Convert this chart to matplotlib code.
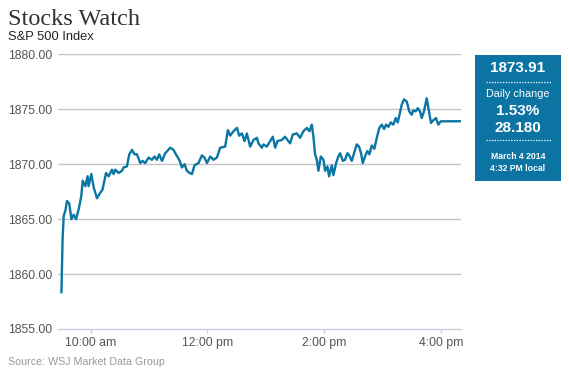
import matplotlib
matplotlib.use("Agg")
import matplotlib.pyplot as plt
from matplotlib.patches import Rectangle
from matplotlib.lines import Line2D
import matplotlib.transforms as mtransforms

# minutes after the 9:30 open, and S&P 500 level
minutes = [0, 1.2, 2.3, 4.0, 5.7, 8.1, 10.2, 12.5, 15.0, 17.7, 20.4, 21.8, 24.5, 26.9,
           27.9, 30.7, 33.1, 36.5, 39.9, 42.3, 45.8, 48.5, 51.9, 53.6, 55.3, 58.7, 62.2,
           63.8, 67.3, 69.7, 72.5, 75.1, 77.6, 81.0, 83.4, 86.1, 89.5, 93.0, 95.7, 98.1,
           100.5, 103.3, 106.7, 111.8, 115.2, 117.6, 121.0, 123.8, 126.5, 128.9, 131.6,
           134.1, 136.7, 140.8, 144.3, 147.0, 149.5, 152.9, 156.2, 159.7, 163.1, 168.2,
           171.0, 173.4, 176.8, 180.3, 182.6, 185.4, 188.1, 190.5, 193.9, 197.3, 200.8,
           202.4, 205.9, 207.6, 211.0, 214.4, 217.2, 219.6, 221.9, 226.4, 229.8, 232.2,
           235.0, 237.7, 241.9, 245.2, 248.6, 252.1, 254.8, 257.2, 258.9, 260.6, 262.4,
           264.0, 266.5, 269.2, 270.9, 273.3, 275.0, 277.8, 279.4, 282.2, 284.5, 286.3,
           289.1, 291.4, 293.8, 295.8, 298.3, 300.7, 303.4, 305.8, 307.8, 309.6, 311.9,
           314.3, 316.4, 318.8, 321.5, 324.0, 326.6, 329.1, 331.5, 333.5, 335.9, 338.3,
           341.0, 343.5, 345.5, 347.9, 349.6, 352.0, 354.8, 357.4, 359.9, 361.5, 364.0,
           366.1, 368.4, 370.2, 372.5, 375.3, 377.7, 379.7, 382.1, 384.8, 387.2, 389.7,
           392.3, 395.1, 411.0]
prices = [1858.35, 1863.2, 1865.3, 1865.75, 1866.65, 1866.4, 1865.0, 1865.4, 1865.0,
          1865.9, 1867.1, 1868.5, 1868.0, 1868.9, 1868.0, 1869.1, 1867.9, 1866.9, 1867.4,
          1867.7, 1869.2, 1868.9, 1869.5, 1869.1, 1869.5, 1869.2, 1869.4, 1869.7, 1869.8,
          1870.9, 1871.3, 1870.9, 1870.9, 1870.1, 1870.3, 1870.1, 1870.6, 1870.4, 1870.7,
          1870.4, 1870.9, 1870.3, 1871.0, 1871.5, 1871.3, 1870.9, 1870.4, 1869.7, 1870.0,
          1869.4, 1869.2, 1869.1, 1869.9, 1870.1, 1870.8, 1870.6, 1870.1, 1870.7, 1870.4,
          1870.6, 1871.5, 1871.6, 1873.1, 1872.6, 1873.0, 1873.3, 1872.6, 1872.8, 1872.1,
          1872.8, 1871.6, 1872.2, 1872.4, 1871.9, 1871.5, 1871.8, 1871.6, 1872.1, 1872.5,
          1871.5, 1872.1, 1872.2, 1872.5, 1872.2, 1871.9, 1872.7, 1872.8, 1872.4, 1873.0,
          1873.3, 1873.0, 1873.6, 1872.5, 1870.9, 1870.4, 1869.4, 1870.7, 1870.4, 1869.4,
          1869.8, 1868.9, 1869.9, 1869.0, 1870.1, 1870.7, 1871.0, 1870.3, 1870.4, 1871.0,
          1870.8, 1870.3, 1871.0, 1871.8, 1871.6, 1871.0, 1870.1, 1870.7, 1871.2, 1870.9,
          1871.7, 1871.4, 1872.4, 1873.3, 1873.6, 1873.2, 1873.6, 1873.4, 1873.8, 1873.6,
          1874.2, 1873.8, 1874.7, 1875.4, 1875.9, 1875.7, 1874.8, 1874.5, 1874.9, 1874.8,
          1875.1, 1874.8, 1874.2, 1874.8, 1876.0, 1874.8, 1873.75, 1874.0, 1874.2, 1873.6,
          1873.9, 1873.9, 1873.91, 1873.91]

tick_minutes = [30, 150, 270, 390]
tick_labels = ["10:00 am", "12:00 pm", "2:00 pm", "4:00 pm"]
y_ticks = [1855, 1860, 1865, 1870, 1875, 1880]

last_value = "1873.91"
pct_change = "1.53%"
pt_change = "28.180"
date_text = "March 4 2014"
time_text = "4:32 PM local"

LINE = "#0a76a4"
BOX = "#0b74a3"
SANS = ["Liberation Sans", "DejaVu Sans"]

plt.rcParams["font.family"] = SANS

fig = plt.figure(figsize=(5.69, 3.72), dpi=100)
ax = fig.add_axes([0.1025, 0.1156, 0.7085, 0.7384])

ax.plot(minutes, prices, color=LINE, lw=1.7, solid_joinstyle="round", zorder=3)

ax.set_xlim(-3.2, 411)
ax.set_ylim(1855, 1880)

for v in y_ticks[1:]:
    ax.axhline(v, color="#c4c4c4", lw=1.0, zorder=1)

for s in ["top", "right", "left"]:
    ax.spines[s].set_visible(False)
ax.spines["bottom"].set_color("#c8d0dc")
ax.spines["bottom"].set_linewidth(1.0)

ax.set_xticks(tick_minutes)
ax.set_xticklabels(tick_labels)
ax.tick_params(axis="x", length=3, width=1, color="#c8d0dc", pad=2.5,
               labelsize=8.8, labelcolor="#555555")

ax.set_yticks(y_ticks)
ax.set_yticklabels([f"{v:.2f}" for v in y_ticks])
ax.tick_params(axis="y", length=0, pad=36.3, labelsize=8.8, labelcolor="#555555")
for lab in ax.get_yticklabels():
    lab.set_horizontalalignment("left")

# header
fig.text(0.014, 0.934, "Stocks Watch", family=["Liberation Serif", "DejaVu Serif"],
         fontsize=17.5, color="#333333", va="baseline")
fig.text(0.014, 1 - 36.7 / 372, "S&P 500 Index", fontsize=9.3, color="#222222", va="center")
fig.text(0.014, 1 - 362.3 / 372, "Source: WSJ Market Data Group", fontsize=7.7,
         color="#999999", va="center")

# info box on the right
fig.patches.append(Rectangle((475 / 569, 1 - 181 / 372), 85.7 / 569, 126 / 372,
                             transform=fig.transFigure, facecolor=BOX, edgecolor="none"))
cx = 518 / 569


def box_text(y_px, s, size, bold=True):
    fig.text(cx, 1 - y_px / 372, s, ha="center", va="center", color="white",
             fontsize=size, fontweight="bold" if bold else "normal")


box_text(68.3, last_value, 11)
box_text(94.3, "Daily change", 7.8, bold=False)
box_text(111, pct_change, 11)
box_text(128.3, pt_change, 11)
box_text(156, date_text, 6.2)
box_text(168.3, time_text, 6.2)

for y_px in [82.3, 140]:
    fig.add_artist(Line2D([486 / 569, 551 / 569], [1 - y_px / 372] * 2,
                          transform=fig.transFigure, color="white", lw=0.9,
                          linestyle=(0, (1, 1.2))))

fig.savefig("out.png", dpi=100)
